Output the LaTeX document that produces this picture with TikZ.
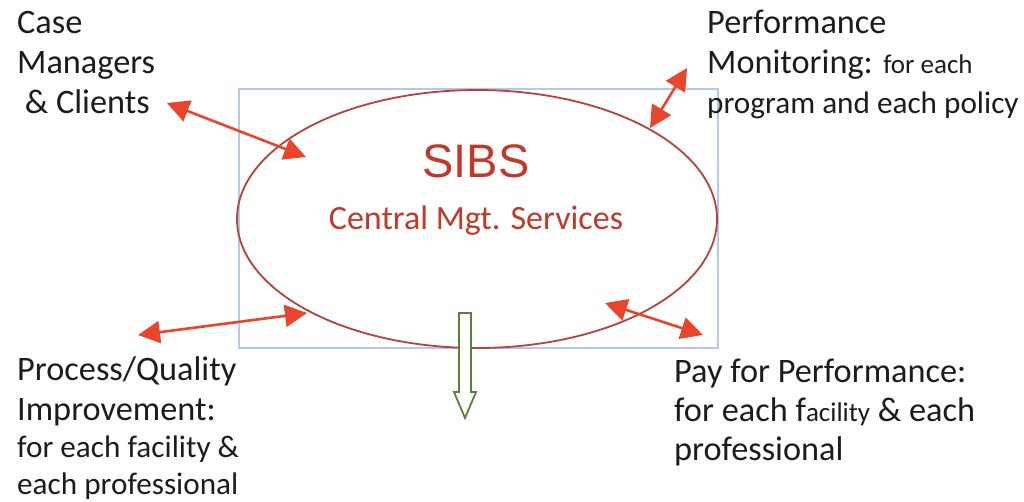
\documentclass[tikz,border=0pt]{standalone}
\usepackage{fontspec}
\setmainfont{Carlito}
\newfontfamily\arialfont{Liberation Sans}
\usetikzlibrary{arrows.meta,shapes.geometric}
\definecolor{txt}{HTML}{1C1C1C}
\definecolor{sibsred}{HTML}{C0392B}
\definecolor{ellred}{HTML}{B5423C}
\definecolor{arrred}{HTML}{E8452C}
\definecolor{hgreen}{HTML}{5A7E3C}
\definecolor{boxblue}{HTML}{B3C8EA}
\tikzset{
  lbl/.style={anchor=base west, inner sep=0pt, align=left, text=txt, font=\fontsize{34.3}{40}\selectfont},
  dbl/.style={draw=arrred, line width=2.6pt, {Triangle[length=22pt,width=22pt]}-{Triangle[length=22pt,width=22pt]}},
}
\newcommand{\sma}[1]{{\fontsize{27}{32}\selectfont #1}}
\newcommand{\smb}[1]{{\fontsize{31.2}{36}\selectfont #1}}
\begin{document}
\begin{tikzpicture}[x=1pt,y=-1pt]
\useasboundingbox (0,0) rectangle (1024,501);
% frame
\draw[boxblue, line width=1.1pt] (239,89) rectangle (718,348);
% ellipse
\node[ellipse, draw=ellred, line width=1.8pt, minimum width=480pt, minimum height=258pt, inner sep=0pt] (core) at (477,219) {};
\node[anchor=base, inner sep=0pt, text=sibsred, font=\arialfont\fontsize{47}{52}\selectfont] (sibs) at (476,177) {SIBS};
\node[anchor=base, inner sep=0pt, text=sibsred, font=\fontsize{34}{40}\selectfont] (cms) at (476,229) {Central Mgt. Services};
% labels (anchored at the baseline of the last line)
\node[lbl] (cm) at (17,113) {Case\\Managers\\\ \& Clients};
\node[lbl] (pm) at (707,113) {Performance\\Monitoring: \sma{for each}\\\smb{program and each policy}};
\node[lbl] (pq) at (17,494) {Process/Quality\\Improvement:\\[-3pt]\smb{for each facility \&}\\[-3pt]\smb{each professional}};
\node[lbl] (pp) at (674,460) {Pay for Performance:\\[-1pt]for each f\sma{acility} \& each\\[-1pt]professional};
% arrows
\coordinate (a1s) at (167,103); \coordinate (a1e) at (306,157);
\coordinate (a2s) at (687,68);  \coordinate (a2e) at (650,128);
\coordinate (a3s) at (138,335); \coordinate (a3e) at (307,313);
\coordinate (a4s) at (605,303); \coordinate (a4e) at (703,335);
\draw[dbl] (a1s) -- (a1e);
\draw[dbl] (a2s) -- (a2e);
\draw[dbl] (a3s) -- (a3e);
\draw[dbl] (a4s) -- (a4e);
% hollow down arrow
\draw[hgreen, line width=1.8pt, line join=miter, fill=white]
  (459,313) -- (471,313) -- (471,392) -- (476,392) -- (465,418) -- (454,392) -- (459,392) -- cycle;
\end{tikzpicture}
\end{document}
